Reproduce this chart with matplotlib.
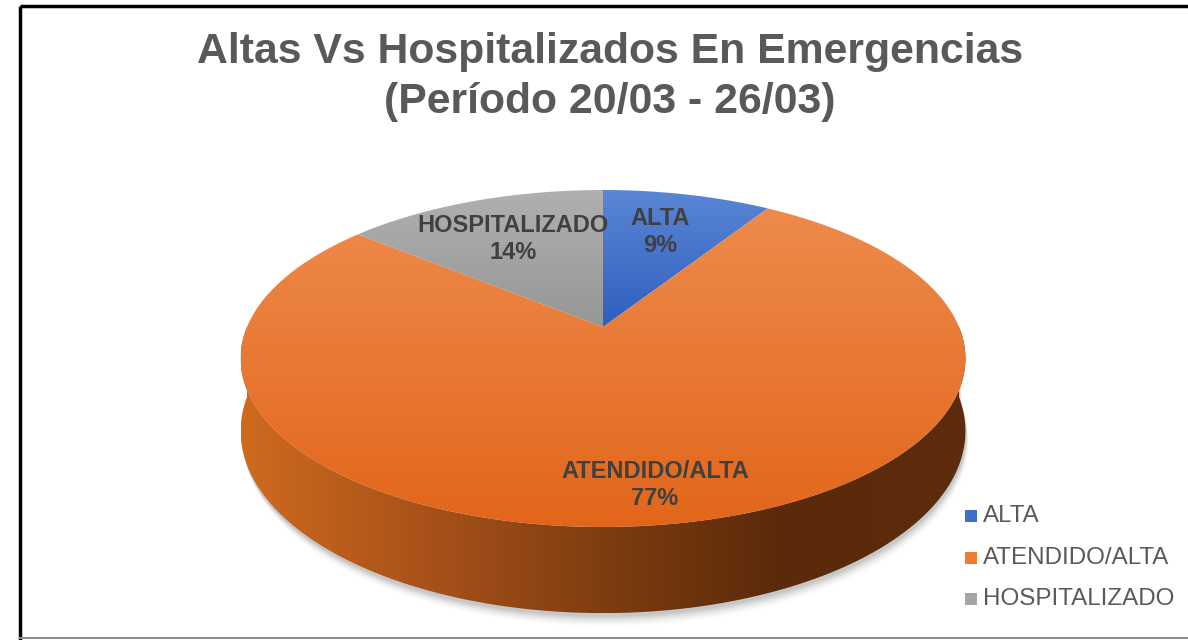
import numpy as np
import matplotlib
matplotlib.use("Agg")
from matplotlib import pyplot as plt
from matplotlib.patches import Polygon
from matplotlib.colors import LinearSegmentedColormap

# data
categories = ["ALTA", "ATENDIDO/ALTA", "HOSPITALIZADO"]
values = [9, 77, 14]
title_lines = ["Altas Vs Hospitalizados En Emergencias", "(Período 20/03 - 26/03)"]

top_colors = [("#5B86D6", "#2F5FBF"), ("#EE8A4C", "#E2661A"), ("#B0B0B0", "#969696")]
legend_colors = ["#3F6FCB", "#ED7D31", "#A5A5A5"]

plt.rcParams['font.family'] = ['Liberation Sans', 'DejaVu Sans']

fig = plt.figure(figsize=(11.88, 6.4), dpi=100)
ax = fig.add_axes([0, 0, 1, 1])
ax.set_xlim(0, 1188)
ax.set_ylim(640, 0)
ax.axis('off')

# 3D pie geometry (screen units)
cx, cy = 603, 327
A, B, k = 356, 162.6, 0.187
depth = 70


def proj(theta, drop=0.0):
    s = np.sin(theta)
    f = 1.0 / (1 + k * s)
    return cx + A * np.cos(theta) * f, cy - B * s * f + drop * f


def gradient_fill(poly_xy, c1, c2, z=2):
    xs, ys = poly_xy[:, 0], poly_xy[:, 1]
    cmap = LinearSegmentedColormap.from_list("g", [c1, c2])
    grad = np.linspace(0, 1, 256).reshape(-1, 1)
    im = ax.imshow(grad, cmap=cmap, extent=[xs.min(), xs.max(), ys.max(), ys.min()],
                   origin='upper', aspect='auto', zorder=z, interpolation='bilinear')
    patch = Polygon(poly_xy, closed=True, facecolor='none', edgecolor='none', zorder=z)
    ax.add_patch(patch)
    im.set_clip_path(patch)


# soft shadow under the pie
th = np.linspace(np.pi, 2 * np.pi, 200)
for i, a in enumerate(np.linspace(0.10, 0.02, 6)):
    off = 3 + i * 1.5
    bx, by = proj(th, depth + off)
    sx, sy = proj(th[::-1], 0)
    pts = np.column_stack([np.r_[bx + off * 0.3, sx], np.r_[by, sy]])
    ax.add_patch(Polygon(pts, closed=True, facecolor='#505050', edgecolor='none',
                         alpha=a, zorder=1))

# side wall (front half)
tx, ty = proj(th, 0)
bx, by = proj(th[::-1], depth)
side = np.column_stack([np.r_[tx, bx], np.r_[ty, by]])
side_cmap = LinearSegmentedColormap.from_list(
    "side", ["#CF6A1E", "#A9521A", "#7E3D10", "#5A2A0A", "#5C2C0C"])
grad = np.linspace(0, 1, 256).reshape(1, -1)
im = ax.imshow(grad, cmap=side_cmap,
               extent=[side[:, 0].min(), side[:, 0].max(), side[:, 1].max(), side[:, 1].min()],
               aspect='auto', zorder=2, interpolation='bilinear')
sp = Polygon(side, closed=True, facecolor='none', edgecolor='none', zorder=2)
ax.add_patch(sp)
im.set_clip_path(sp)

# top face wedges (start at 12 o'clock, clockwise)
fracs = np.array(values, dtype=float) / sum(values)
start = np.pi / 2
for frac, (c1, c2) in zip(fracs, top_colors):
    end = start - frac * 2 * np.pi
    t = np.linspace(start, end, max(int(frac * 400), 10))
    px, py = proj(t, 0)
    poly = np.column_stack([np.r_[cx, px], np.r_[cy, py]])
    gradient_fill(poly, c1, c2, z=3)
    start = end

# data labels
label_pos = [(660, 232), (655, 485), (513, 239)]
for cat, v, (lx, ly) in zip(categories, values, label_pos):
    ax.text(lx, ly, f"{cat}\n{v}%", ha='center', va='center', fontsize=17,
            fontweight='bold', color='#404040', linespacing=1.2, zorder=5)

# title
ax.text(610, 52, title_lines[0], ha='center', va='center', fontsize=30.8,
        fontweight='bold', color='#595959')
ax.text(610, 102, title_lines[1], ha='center', va='center', fontsize=30.8,
        fontweight='bold', color='#595959')

# legend
for i, (cat, col) in enumerate(zip(categories, legend_colors)):
    ly = 516 + i * 41.5
    ax.add_patch(plt.Rectangle((965, ly - 6), 12, 12, facecolor=col, edgecolor='none'))
    ax.text(983, ly, cat, ha='left', va='center', fontsize=17.4, color='#595959')

# chart border (cropped)
ax.plot([20, 20], [640, 6], color='black', lw=2.5, solid_capstyle='butt')
ax.plot([20, 1188], [6, 6], color='black', lw=2.5, solid_capstyle='butt')
ax.plot([20, 1188], [637.5, 637.5], color='#8C8C8C', lw=1.5)

fig.savefig("out.png", dpi=100)
